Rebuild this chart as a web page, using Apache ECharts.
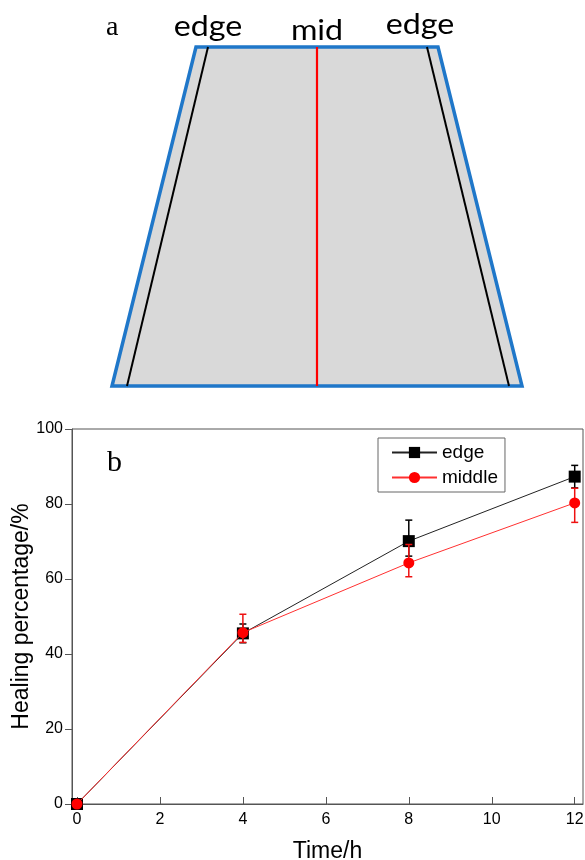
<!DOCTYPE html>
<html><head><meta charset="utf-8">
<script src="https://cdn.jsdelivr.net/npm/echarts@6/dist/echarts.min.js"></script>
<style>html,body{margin:0;padding:0;background:#fff}#c{width:585px;height:860px}</style>
</head><body><div id="c"></div>
<script>
// ---- panel b data ----
const timeH = [0, 4, 8, 12];
const edgeVals = [0, 45.5, 70.1, 87.3];
const edgeLow  = [0, 43.0, 66.1, 84.3];
const edgeHigh = [0, 48.0, 75.7, 90.3];
const middleVals = [0, 45.7, 64.3, 80.3];
const middleLow  = [0, 43.1, 60.6, 75.1];
const middleHigh = [0, 50.6, 69.2, 84.2];
const xTicks = [0, 2, 4, 6, 8, 10, 12];
const yTicks = [0, 20, 40, 60, 80, 100];

// ---- panel a schematic (diagram units, mid line at x=0, base at y=0) ----
const trapezoid = [[-121, 339], [121, 339], [205, 0], [-205, 0]];
const edgeLineLeft = [[-109, 339], [-190, 0]];
const edgeLineRight = [[110, 339], [192, 0]];
const midLine = [[0, 339], [0, 0]];
const schematicLabels = [[-109, 359, 'edge'], [0, 355, 'mid'], [103, 361, 'edge']];

const pts = (xs, ys) => xs.map((x, i) => [x, ys[i]]);
const errRows = (xs, lo, hi) => xs.map((x, i) => [x, lo[i], hi[i]]);

function errorBar(color) {
  return function (params, api) {
    const x = api.value(0);
    const lo = api.coord([x, api.value(1)]);
    const hi = api.coord([x, api.value(2)]);
    const w = 3.5;
    const st = { stroke: color, lineWidth: 1.5 };
    return {
      type: 'group',
      children: [
        { type: 'line', shape: { x1: lo[0], y1: lo[1], x2: hi[0], y2: hi[1] }, style: st },
        { type: 'line', shape: { x1: lo[0] - w, y1: lo[1], x2: lo[0] + w, y2: lo[1] }, style: st },
        { type: 'line', shape: { x1: hi[0] - w, y1: hi[1], x2: hi[0] + w, y2: hi[1] }, style: st }
      ]
    };
  };
}

const chart = echarts.init(document.getElementById('c'), null, { renderer: 'canvas' });
const axisColor = '#555';
const font = 'Liberation Sans, Arial, sans-serif';

chart.setOption({
  animation: false,
  backgroundColor: '#fff',
  textStyle: { fontFamily: font },
  graphic: [
    { type: 'text', left: 106, top: 14, style: { text: 'a', font: '28px "Liberation Serif", "Times New Roman", serif', fill: '#000' } },
    { type: 'text', left: 107, top: 448, style: { text: 'b', font: '30px "Liberation Serif", "Times New Roman", serif', fill: '#000' } }
  ],
  grid: [
    { left: 72, right: 2, top: 429, bottom: 56, outerBoundsMode: 'none', containLabel: false, show: true, borderColor: axisColor, borderWidth: 1, backgroundColor: 'transparent' },
    { left: 0, top: 0, width: 585, height: 410, outerBoundsMode: 'none', containLabel: false, show: false }
  ],
  legend: {
    data: ['edge', 'middle'],
    orient: 'vertical',
    left: 378, top: 438,
    padding: [5, 7, 5, 13],
    itemGap: 6,
    itemWidth: 45, itemHeight: 14,
    borderColor: '#666', borderWidth: 1,
    textStyle: { fontSize: 19, color: '#000', fontFamily: font }
  },
  xAxis: [
    {
      gridIndex: 0, type: 'value', min: -0.12, max: 12.2,
      name: 'Time/h', nameLocation: 'middle', nameGap: 36, nameMoveOverlap: false,
      nameTextStyle: { fontSize: 23, color: '#000', fontFamily: font },
      axisLine: { show: true, onZero: false, lineStyle: { color: axisColor, width: 1 } },
      axisTick: { show: true, inside: true, length: 7, customValues: xTicks, lineStyle: { color: axisColor } },
      axisLabel: { customValues: xTicks, fontSize: 16, color: '#000', margin: 8, fontFamily: font },
      splitLine: { show: false }
    },
    { gridIndex: 1, type: 'value', min: -317, max: 268, show: false }
  ],
  yAxis: [
    {
      gridIndex: 0, type: 'value', min: 0, max: 100, interval: 20,
      name: 'Healing percentage/%', nameLocation: 'middle', nameGap: 39, nameMoveOverlap: false,
      nameTextStyle: { fontSize: 23, color: '#000', fontFamily: font },
      axisLine: { show: true, onZero: false, lineStyle: { color: axisColor, width: 1 } },
      axisTick: { show: true, inside: false, length: 7, lineStyle: { color: axisColor } },
      axisLabel: { fontSize: 16, color: '#000', margin: 9, fontFamily: font },
      splitLine: { show: false }
    },
    { gridIndex: 1, type: 'value', min: -24, max: 386, show: false }
  ],
  series: [
    // ---- panel a ----
    {
      type: 'custom', xAxisIndex: 1, yAxisIndex: 1, silent: true, z: 1,
      data: [[0, 0]],
      renderItem: function (params, api) {
        return {
          type: 'polygon',
          shape: { points: trapezoid.map(p => api.coord(p)) },
          style: { fill: '#d9d9d9', stroke: '#1f77c9', lineWidth: 3.5, lineJoin: 'miter' }
        };
      }
    },
    { type: 'line', xAxisIndex: 1, yAxisIndex: 1, data: edgeLineLeft, symbol: 'none', silent: true, z: 3, lineStyle: { color: '#000', width: 2 } },
    { type: 'line', xAxisIndex: 1, yAxisIndex: 1, data: edgeLineRight, symbol: 'none', silent: true, z: 3, lineStyle: { color: '#000', width: 2 } },
    { type: 'line', xAxisIndex: 1, yAxisIndex: 1, data: midLine, symbol: 'none', silent: true, z: 3, lineStyle: { color: '#ff0000', width: 2.2 } },
    {
      type: 'custom', xAxisIndex: 1, yAxisIndex: 1, silent: true, z: 4,
      data: schematicLabels,
      renderItem: function (params, api) {
        const p = api.coord([api.value(0), api.value(1)]);
        return {
          type: 'text', x: p[0], y: p[1], scaleX: 1.15,
          style: {
            text: schematicLabels[params.dataIndex][2],
            font: '28px Lato, "Open Sans", sans-serif',
            fill: '#000', align: 'center', verticalAlign: 'middle'
          }
        };
      }
    },
    // ---- panel b ----
    {
      type: 'custom', name: 'edgeErr', xAxisIndex: 0, yAxisIndex: 0, silent: true, z: 2,
      data: errRows(timeH, edgeLow, edgeHigh), encode: { x: 0, y: [1, 2] },
      renderItem: errorBar('#000')
    },
    {
      type: 'line', name: 'edge', xAxisIndex: 0, yAxisIndex: 0, z: 3,
      data: pts(timeH, edgeVals),
      symbol: 'rect', symbolSize: 12,
      itemStyle: { color: '#000' },
      lineStyle: { color: '#222', width: 1 }
    },
    {
      type: 'custom', name: 'middleErr', xAxisIndex: 0, yAxisIndex: 0, silent: true, z: 4,
      data: errRows(timeH, middleLow, middleHigh), encode: { x: 0, y: [1, 2] },
      renderItem: errorBar('#ee1111')
    },
    {
      type: 'line', name: 'middle', xAxisIndex: 0, yAxisIndex: 0, z: 5,
      data: pts(timeH, middleVals),
      symbol: 'circle', symbolSize: 11,
      itemStyle: { color: '#ff0000' },
      lineStyle: { color: '#ff3030', width: 1 }
    }
  ]
});
</script>
</body></html>
